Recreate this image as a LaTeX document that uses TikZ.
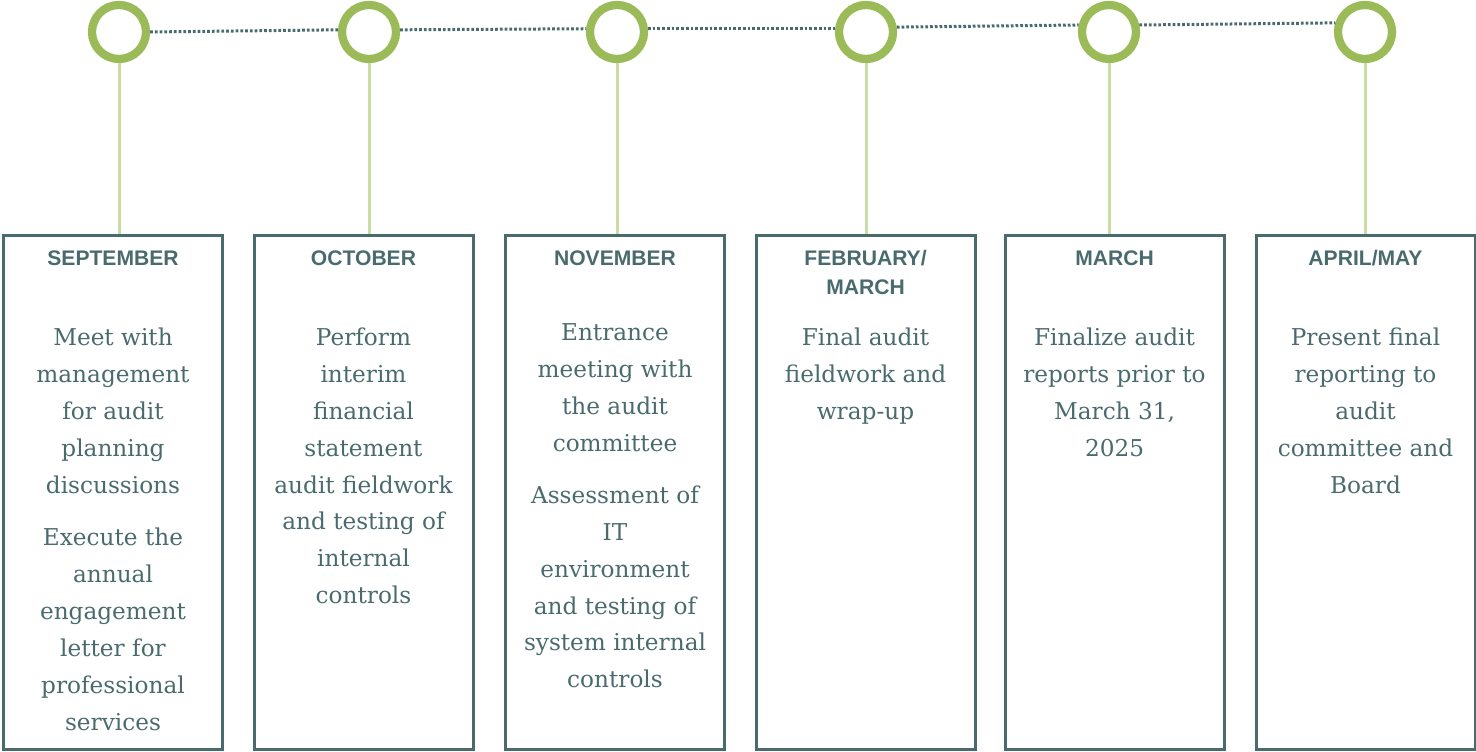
\documentclass[tikz,border=0pt]{standalone}
\usepackage{fontspec}
\setmainfont{DejaVu Serif}
\newfontfamily\headfont{Liberation Sans}
\usepackage{xcolor}
\usepackage{tikz}
\usetikzlibrary{positioning}
\definecolor{cSlate}{HTML}{4A6B6E}
\definecolor{cText}{HTML}{4A6B6D}
\definecolor{cRing}{HTML}{9BBB59}
\definecolor{cStem}{HTML}{C9DCA6}
\tikzset{
  ring/.style={circle,draw=cRing,line width=1.65mm,minimum size=10.8mm,inner sep=0pt},
  card/.style={rectangle,draw=cSlate,line width=0.6mm,minimum width=43.8mm,minimum height=102.6mm,inner sep=0pt},
  stem/.style={draw=cStem,line width=0.6mm},
  dotline/.style={draw=cSlate,line width=0.6mm,dash pattern=on 0.55mm off 0.4mm},
  head/.style={font=\headfont\bfseries\fontsize{12}{16.5}\selectfont,text=cSlate,align=center,inner sep=0pt},
  body/.style={font=\fontsize{13.2}{21}\selectfont,text=cText,align=center,inner sep=0pt}}

\begin{document}
\begin{tikzpicture}[x=0.2mm,y=0.2mm]
\useasboundingbox (0,0) rectangle (1476,752);
\node[ring] (c1) at (119,720) {};
\node[ring] (c2) at (369,720) {};
\node[ring] (c3) at (617,720) {};
\node[ring] (c4) at (866,720) {};
\node[ring] (c5) at (1109,720) {};
\node[ring] (c6) at (1365,720) {};
\draw[dotline] (c1.0) -- (c2.176);
\draw[dotline] (c2.4) -- (c3.174);
\draw[dotline] (c3.7) -- (c4.173);
\draw[dotline] (c4.9) -- (c5.167);
\draw[dotline] (c5.13) -- (c6.163);
\node[card] (b1) at (113,259.5) {};
\node[card] (b2) at (363.5,259.5) {};
\node[card] (b3) at (615,259.5) {};
\node[card] (b4) at (865.5,259.5) {};
\node[card] (b5) at (1114.5,259.5) {};
\node[card] (b6) at (1365.5,259.5) {};
\draw[stem] (c1.south) -- (c1.south |- b1.north);
\draw[stem] (c2.south) -- (c2.south |- b2.north);
\draw[stem] (c3.south) -- (c3.south |- b3.north);
\draw[stem] (c4.south) -- (c4.south |- b4.north);
\draw[stem] (c5.south) -- (c5.south |- b5.north);
\draw[stem] (c6.south) -- (c6.south |- b6.north);
\node[head,below=3.1mm of b1.north] (h1) {SEPTEMBER};
\node[head,below=3.1mm of b2.north] (h2) {OCTOBER};
\node[head,below=3.1mm of b3.north] (h3) {NOVEMBER};
\node[head,below=3.1mm of b4.north] (h4) {FEBRUARY/\\ MARCH};
\node[head,below=3.1mm of b5.north] (h5) {MARCH};
\node[head,below=3.1mm of b6.north] (h6) {APRIL/MAY};
\node[body,below=18.6mm of b1.north] (t1) {Meet with\\ management\\ for audit\\ planning\\ discussions\\[3.2mm] Execute the\\ annual\\ engagement\\ letter for\\ professional\\ services};
\node[body,below=18.6mm of b2.north] (t2) {Perform\\ interim\\ financial\\ statement\\ audit fieldwork\\ and testing of\\ internal\\ controls};
\node[body,below=17.8mm of b3.north] (t3) {Entrance\\ meeting with\\ the audit\\ committee\\[3mm] Assessment of\\ IT\\ environment\\ and testing of\\ system internal\\ controls};
\node[body,below=18.6mm of b4.north] (t4) {Final audit\\ fieldwork and\\ wrap-up};
\node[body,below=18.6mm of b5.north] (t5) {Finalize audit\\ reports prior to\\ March 31,\\ 2025};
\node[body,below=18.6mm of b6.north] (t6) {Present final\\ reporting to\\ audit\\ committee and\\ Board};
\end{tikzpicture}
\end{document}
